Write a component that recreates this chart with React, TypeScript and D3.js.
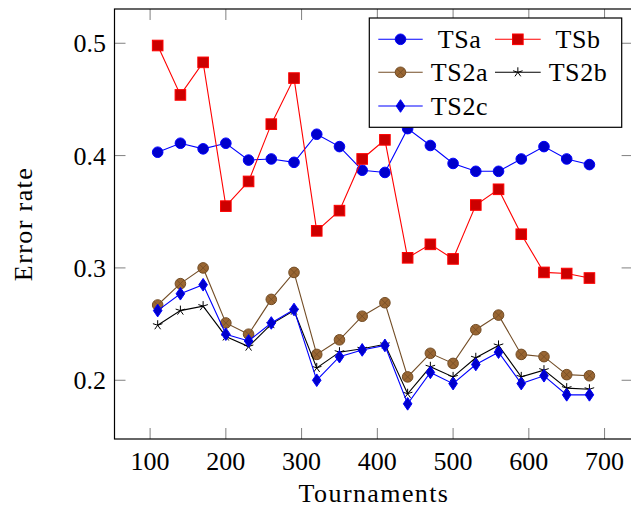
import * as d3 from "d3";
import { useEffect, useRef } from "react";

// tournaments on the x axis
const tournaments = [110, 140, 170, 200, 230, 260, 290, 320, 350, 380, 410, 440, 470, 500, 530, 560, 590, 620, 650, 680];

const tsa = [0.403, 0.411, 0.406, 0.411, 0.396, 0.397, 0.394, 0.419, 0.408, 0.387, 0.385, 0.424, 0.409, 0.393, 0.386, 0.386, 0.397, 0.408, 0.397, 0.392];
const tsb = [0.498, 0.454, 0.483, 0.355, 0.377, 0.428, 0.469, 0.333, 0.351, 0.397, 0.414, 0.309, 0.321, 0.308, 0.356, 0.37, 0.33, 0.296, 0.295, 0.291];
const ts2a = [0.267, 0.286, 0.3, 0.251, 0.241, 0.272, 0.296, 0.223, 0.236, 0.257, 0.269, 0.203, 0.224, 0.215, 0.245, 0.258, 0.223, 0.221, 0.205, 0.204];
const ts2b = [0.249, 0.262, 0.266, 0.239, 0.23, 0.25, 0.262, 0.211, 0.225, 0.228, 0.232, 0.188, 0.212, 0.203, 0.22, 0.231, 0.203, 0.209, 0.193, 0.192];
const ts2c = [0.262, 0.277, 0.285, 0.241, 0.235, 0.251, 0.263, 0.2, 0.221, 0.227, 0.231, 0.179, 0.207, 0.197, 0.214, 0.225, 0.197, 0.204, 0.187, 0.187];

const xTicks = [100, 200, 300, 400, 500, 600, 700];
const yTicks = [0.2, 0.3, 0.4, 0.5];

const series = [
  { name: "TSa", values: tsa, line: "#0000ff", fill: "#0000cc", mark: "circle" },
  { name: "TSb", values: tsb, line: "#ff0000", fill: "#cc0000", mark: "square" },
  { name: "TS2a", values: ts2a, line: "#734d26", fill: "#996633", mark: "otimes" },
  { name: "TS2b", values: ts2b, line: "#000000", fill: "none", mark: "star" },
  { name: "TS2c", values: ts2c, line: "#0000ff", fill: "#0000cc", mark: "diamond" },
];

const FONT = "Liberation Serif, DejaVu Serif, serif";

function drawMark(g, mark, line, fill) {
  if (mark === "circle") {
    g.append("circle").attr("r", 5.3).attr("fill", fill).attr("stroke", line).attr("stroke-width", 1);
  } else if (mark === "square") {
    g.append("rect").attr("x", -5.3).attr("y", -5.3).attr("width", 10.6).attr("height", 10.6)
      .attr("fill", fill).attr("stroke", line).attr("stroke-width", 1);
  } else if (mark === "otimes") {
    g.append("circle").attr("r", 5.3).attr("fill", fill).attr("stroke", line).attr("stroke-width", 1);
    const k = 5.3 * Math.SQRT1_2;
    g.append("path").attr("d", `M${-k},${-k}L${k},${k}M${-k},${k}L${k},${-k}`)
      .attr("stroke", line).attr("stroke-width", 0.8);
  } else if (mark === "star") {
    let d = "";
    for (let i = 0; i < 5; i++) {
      const a = -Math.PI / 2 + (i * 2 * Math.PI) / 5;
      d += `M0,0L${5 * Math.cos(a)},${5 * Math.sin(a)}`;
    }
    g.append("path").attr("d", d).attr("stroke", line).attr("stroke-width", 1).attr("fill", "none");
  } else if (mark === "diamond") {
    g.append("path").attr("d", "M0,-6.3L4.3,0L0,6.3L-4.3,0Z")
      .attr("fill", fill).attr("stroke", line).attr("stroke-width", 1);
  }
}

export default function App() {
  const ref = useRef(null);

  useEffect(() => {
    const svg = d3.select(ref.current);
    svg.selectAll("*").remove();

    const left = 114.5, right = 632.6, top = 9, bottom = 439;
    const x = d3.scaleLinear().domain([53, 737]).range([left, right]);
    const y = d3.scaleLinear().domain([0.1477, 0.5305]).range([bottom, top]);

    // ticks (inside, mirrored)
    const ticks = svg.append("g").attr("stroke", "#808080").attr("stroke-width", 1);
    xTicks.forEach((t) => {
      ticks.append("line").attr("x1", x(t)).attr("x2", x(t)).attr("y1", bottom).attr("y2", bottom - 11);
      ticks.append("line").attr("x1", x(t)).attr("x2", x(t)).attr("y1", top).attr("y2", top + 11);
    });
    yTicks.forEach((t) => {
      ticks.append("line").attr("x1", left).attr("x2", left + 11).attr("y1", y(t)).attr("y2", y(t));
      ticks.append("line").attr("x1", right).attr("x2", right - 11).attr("y1", y(t)).attr("y2", y(t));
    });

    svg.append("rect").attr("x", left).attr("y", top).attr("width", right - left).attr("height", bottom - top)
      .attr("fill", "none").attr("stroke", "#000").attr("stroke-width", 1.2);

    // tick labels
    svg.append("g").selectAll("text").data(xTicks).join("text")
      .attr("x", (d) => x(d)).attr("y", 470).attr("text-anchor", "middle")
      .attr("font-family", FONT).attr("font-size", 26).text((d) => d);
    svg.append("g").selectAll("text").data(yTicks).join("text")
      .attr("x", 106).attr("y", (d) => y(d) + 9).attr("text-anchor", "end")
      .attr("font-family", FONT).attr("font-size", 26).text((d) => d.toFixed(1));

    svg.append("text").attr("x", 374).attr("y", 502).attr("text-anchor", "middle")
      .attr("font-family", FONT).attr("font-size", 26).attr("letter-spacing", 1.4).text("Tournaments");
    svg.append("text").attr("transform", `translate(32,${(top + bottom) / 2}) rotate(-90)`)
      .attr("text-anchor", "middle").attr("font-family", FONT).attr("font-size", 26)
      .attr("letter-spacing", 1.4).text("Error rate");

    // series
    const line = d3.line().x((d) => x(d[0])).y((d) => y(d[1]));
    series.forEach((s) => {
      const pts = tournaments.map((t, i) => [t, s.values[i]]);
      svg.append("path").attr("d", line(pts)).attr("fill", "none").attr("stroke", s.line).attr("stroke-width", 1.1);
      pts.forEach((p) => {
        const g = svg.append("g").attr("transform", `translate(${x(p[0])},${y(p[1])})`);
        drawMark(g, s.mark, s.line, s.fill);
      });
    });

    // legend
    const lg = svg.append("g");
    lg.append("rect").attr("x", 369.3).attr("y", 18).attr("width", 252.4).attr("height", 109.3)
      .attr("fill", "#fff").attr("stroke", "#000").attr("stroke-width", 1.2);
    const cols = [
      { x1: 378.3, x2: 422.7, tx: 459.5 },
      { x1: 495, x2: 540.7, tx: 578 },
    ];
    const rows = [39.3, 72.3, 106];
    series.forEach((s, i) => {
      const c = cols[i % 2];
      const ry = rows[Math.floor(i / 2)];
      lg.append("line").attr("x1", c.x1).attr("x2", c.x2).attr("y1", ry).attr("y2", ry)
        .attr("stroke", s.line).attr("stroke-width", 1.1);
      const g = lg.append("g").attr("transform", `translate(${(c.x1 + c.x2) / 2},${ry})`);
      drawMark(g, s.mark, s.line, s.fill);
      lg.append("text").attr("x", c.tx).attr("y", ry + 9).attr("text-anchor", "middle")
        .attr("font-family", FONT).attr("font-size", 26).attr("letter-spacing", 0.6).text(s.name);
    });
  }, []);

  return (
    <svg ref={ref} width={631} height={508}
      style={{ position: "absolute", left: 0, top: 0, background: "#fff" }} />
  );
}
